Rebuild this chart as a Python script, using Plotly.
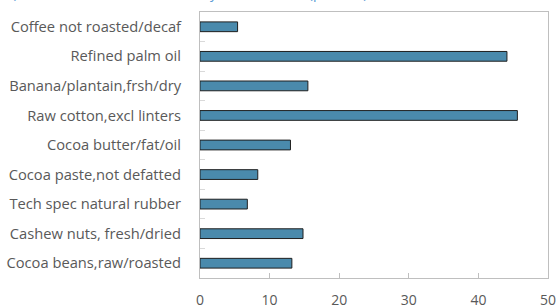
import plotly.graph_objects as go

categories = [
    "Coffee not roasted/decaf",
    "Refined palm oil",
    "Banana/plantain,frsh/dry",
    "Raw cotton,excl linters",
    "Cocoa butter/fat/oil",
    "Cocoa paste,not defatted",
    "Tech spec natural rubber",
    "Cashew nuts, fresh/dried",
    "Cocoa beans,raw/roasted",
]
values = [5.4, 44.1, 15.5, 45.6, 13.0, 8.3, 6.8, 14.8, 13.2]
x_ticks = [0, 10, 20, 30, 40, 50]
title_text = "(Market share in world trade by commodities (percent)"

fig = go.Figure(go.Bar(
    x=values, y=categories, orientation="h", width=0.33,
    marker=dict(color="#4a8aac", line=dict(color="#1f1f1f", width=1)),
    hoverinfo="skip",
))

fig.add_annotation(
    text=title_text, xref="paper", yref="paper", x=-0.545, y=1.0,
    xanchor="left", yanchor="bottom", yshift=7.5, showarrow=False,
    font=dict(family="Open Sans", size=14, color="#5b9bd5"),
)

fig.update_layout(
    width=558, height=307,
    margin=dict(l=200, r=10, t=12, b=29),
    paper_bgcolor="white", plot_bgcolor="white",
    showlegend=False,
    font=dict(family="Open Sans", size=14, color="#595959"),
    xaxis=dict(range=[0, 50], tickvals=x_ticks, ticks="inside", ticklen=5,
               tickcolor="#bfbfbf", showgrid=False, zeroline=False,
               showline=True, linecolor="#bfbfbf", mirror=True,
               ticklabelstandoff=9, automargin=False),
    yaxis=dict(autorange="reversed", tickson="boundaries", ticks="inside",
               ticklen=5, tickcolor="#d9d9d9", showgrid=False,
               showline=True, linecolor="#bfbfbf", mirror=True,
               tickfont=dict(size=14.7),
               ticklabelstandoff=15, automargin=False),
)

fig.write_html("out.html",
               config={"displayModeBar": False},
               post_script="document.body.style.margin='0';document.body.style.overflow='hidden';")
